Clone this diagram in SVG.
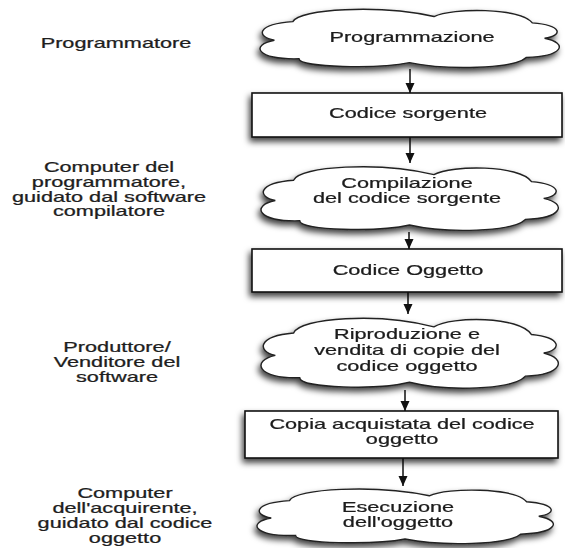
<svg xmlns="http://www.w3.org/2000/svg" xmlns:xlink="http://www.w3.org/1999/xlink" width="565" height="548" viewBox="0 0 565 548">
<style>
.t{font-family:"Liberation Sans",Arial,sans-serif;font-size:14px;fill:#1e1e1e;stroke:#1e1e1e;stroke-width:0.25;text-anchor:middle}
.box{fill:#fff;stroke:#111;stroke-width:1.6}
.cl{fill:#fff;stroke:#222;stroke-width:1.4;vector-effect:non-scaling-stroke}
.ln{stroke:#111;stroke-width:1.5;fill:none}
</style>
<defs>
<filter id="sh" x="-10%" y="-20%" width="120%" height="150%">
<feDropShadow dx="-2" dy="4" stdDeviation="3" flood-color="#000" flood-opacity="0.75"/>
</filter>
<path id="cloud" class="cl" d="M6 55 C0 50 0 30 12 26 C14 6 40 -1 58 18 C64 4 86 4 90 28 C100 32 100 48 94 52 C102 60 100 80 88 82 C84 100 62 102 50 90 C40 100 14 98 14 84 C0 86 -2 62 6 55 Z"/>
<marker id="ah" markerWidth="11" markerHeight="11" refX="10" refY="5.5" orient="auto" markerUnits="userSpaceOnUse">
<path d="M0 1 L10 5.5 L0 10 Z" fill="#111"/>
</marker>
</defs>

<g id="labels">
<text class="t" transform="translate(116 0) scale(1.55 1)" y="48">Programmatore</text>
<text class="t" transform="translate(109 0) scale(1.55 1)" y="172"><tspan x="0">Computer del</tspan><tspan x="0" dy="15">programmatore,</tspan><tspan x="0" dy="15">guidato dal software</tspan><tspan x="0" dy="14.5">compilatore</tspan></text>
<text class="t" transform="translate(117 0) scale(1.55 1)" y="352"><tspan x="0">Produttore/</tspan><tspan x="0" dy="15">Venditore del</tspan><tspan x="0" dy="15">software</tspan></text>
<text class="t" transform="translate(125 0) scale(1.55 1)" y="498"><tspan x="0">Computer</tspan><tspan x="0" dy="15">dell'acquirente,</tspan><tspan x="0" dy="15">guidato dal codice</tspan><tspan x="0" dy="15">oggetto</tspan></text>
</g>

<g id="connectors">
<line class="ln" x1="410" y1="69" x2="410" y2="93" marker-end="url(#ah)"/>
<line class="ln" x1="410" y1="137" x2="410" y2="163" marker-end="url(#ah)"/>
<line class="ln" x1="409" y1="232" x2="409" y2="249" marker-end="url(#ah)"/>
<line class="ln" x1="408" y1="292" x2="408" y2="314" marker-end="url(#ah)"/>
<line class="ln" x1="405" y1="390" x2="405" y2="411" marker-end="url(#ah)"/>
<line class="ln" x1="403" y1="458" x2="403" y2="486" marker-end="url(#ah)"/>
</g>

<g id="n1" filter="url(#sh)">
<use xlink:href="#cloud" transform="translate(256 5) scale(3.07 0.64)"/>
<text class="t" transform="translate(412 0) scale(1.55 1)" y="42">Programmazione</text>
</g>
<g id="n2" filter="url(#sh)">
<rect class="box" x="252" y="93" width="310" height="44"/>
<text class="t" transform="translate(408 0) scale(1.55 1)" y="118">Codice sorgente</text>
</g>
<g id="n3" filter="url(#sh)">
<use xlink:href="#cloud" transform="translate(257 162) scale(3.05 0.70)"/>
<text class="t" transform="translate(407 0) scale(1.55 1)" y="188"><tspan x="0">Compilazione</tspan><tspan x="0" dy="15">del codice sorgente</tspan></text>
</g>
<g id="n4" filter="url(#sh)">
<rect class="box" x="252" y="249" width="310" height="43"/>
<text class="t" transform="translate(408 0) scale(1.55 1)" y="275">Codice Oggetto</text>
</g>
<g id="n5" filter="url(#sh)">
<use xlink:href="#cloud" transform="translate(257 313) scale(3.05 0.77)"/>
<text class="t" transform="translate(407 0) scale(1.55 1)" y="339"><tspan x="0">Riproduzione e</tspan><tspan x="0" dy="16">vendita di copie del</tspan><tspan x="0" dy="16">codice oggetto</tspan></text>
</g>
<g id="n6" filter="url(#sh)">
<rect class="box" x="245" y="411" width="313" height="47"/>
<text class="t" transform="translate(402 0) scale(1.55 1)" y="429"><tspan x="0">Copia acquistata del codice</tspan><tspan x="0" dy="15">oggetto</tspan></text>
</g>
<g id="n7" filter="url(#sh)">
<use xlink:href="#cloud" transform="translate(253 485) scale(3.04 0.60)"/>
<text class="t" transform="translate(398 0) scale(1.55 1)" y="512"><tspan x="0">Esecuzione</tspan><tspan x="0" dy="15">dell'oggetto</tspan></text>
</g>
</svg>
